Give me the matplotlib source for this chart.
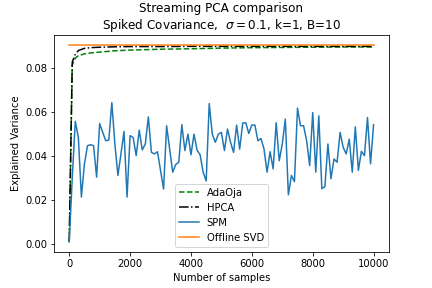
"""
streaming pca comparison on the spiked covariance model.

  AdaOja / HPCA : smooth convergence curves
  SPM           : noisy per-block estimate
  Offline SVD   : reference level
"""

import numpy as np
import matplotlib
matplotlib.use("Agg")
import matplotlib.pyplot as plt


# --- data ---

# smooth curves, read on a coarse sample grid
n_smooth = [0, 100, 200, 300, 500, 700, 1000, 1500, 2000, 3000,
            4000, 5000, 6000, 7000, 8000, 9000, 10000]
adaoja = [0.001, 0.0815, 0.0846, 0.0856, 0.0865, 0.0869, 0.0873,
          0.0879, 0.0882, 0.0886, 0.0888, 0.0891, 0.0893, 0.0894,
          0.0895, 0.0896, 0.0896]
hpca = [0.001, 0.0828, 0.0863, 0.0880, 0.0890, 0.0893, 0.0895,
        0.0897, 0.0898, 0.0898, 0.0899, 0.0899, 0.0899, 0.0899,
        0.0899, 0.0899, 0.0899]

# spm, every 100 samples
n_spm = list(range(0, 10001, 100))
spm = [0.001, 0.0302, 0.0558, 0.0485, 0.0214, 0.0365, 0.0447, 0.0452,
       0.0447, 0.0304, 0.0548, 0.0508, 0.0470, 0.0473, 0.0643, 0.0455,
       0.0312, 0.0410, 0.0512, 0.0214, 0.0493, 0.0485, 0.0402, 0.0518,
       0.0428, 0.0455, 0.0578, 0.0417, 0.0410, 0.0420, 0.0335, 0.0250,
       0.0538, 0.0432, 0.0327, 0.0362, 0.0372, 0.0543, 0.0425, 0.0500,
       0.0406, 0.0500, 0.0427, 0.0406, 0.0327, 0.0287, 0.0639, 0.0500,
       0.0463, 0.0500, 0.0508, 0.0425, 0.0523, 0.0463, 0.0417, 0.0541,
       0.0432, 0.0550, 0.0552, 0.0503, 0.0541, 0.0541, 0.0470, 0.0480,
       0.0432, 0.0327, 0.0420, 0.0342, 0.0552, 0.0379, 0.0455, 0.0568,
       0.0224, 0.0312, 0.0284, 0.0618, 0.0538, 0.0538, 0.0470, 0.0357,
       0.0598, 0.0327, 0.0583, 0.0252, 0.0261, 0.0455, 0.0297, 0.0387,
       0.0372, 0.0508, 0.0440, 0.0410, 0.0477, 0.0327, 0.0533, 0.0335,
       0.0422, 0.0402, 0.0575, 0.0365, 0.0543]

offline_n = [0, 10000]
offline_svd = 0.0904


def main():
    fig, ax = plt.subplots(figsize=(6, 4), dpi=72)
    fig.subplots_adjust(bottom=0.126, top=0.877)

    ax.plot(n_smooth, adaoja, "g--", label="AdaOja")
    ax.plot(n_smooth, hpca, "k-.", label="HPCA")
    ax.plot(n_spm, spm, color="C0", label="SPM")
    ax.plot(offline_n, [offline_svd] * len(offline_n), color="C1",
            label="Offline SVD")

    ax.set_xlabel("Number of samples")
    ax.set_ylabel("Explained Variance")
    ax.set_title("Streaming PCA comparison\n"
                 "Spiked Covariance,  $\\sigma = 0.1$, k=1, B=10")
    ax.legend(loc="lower center")

    fig.savefig("out.png", dpi=72)
    plt.close(fig)


if __name__ == "__main__":
    main()
